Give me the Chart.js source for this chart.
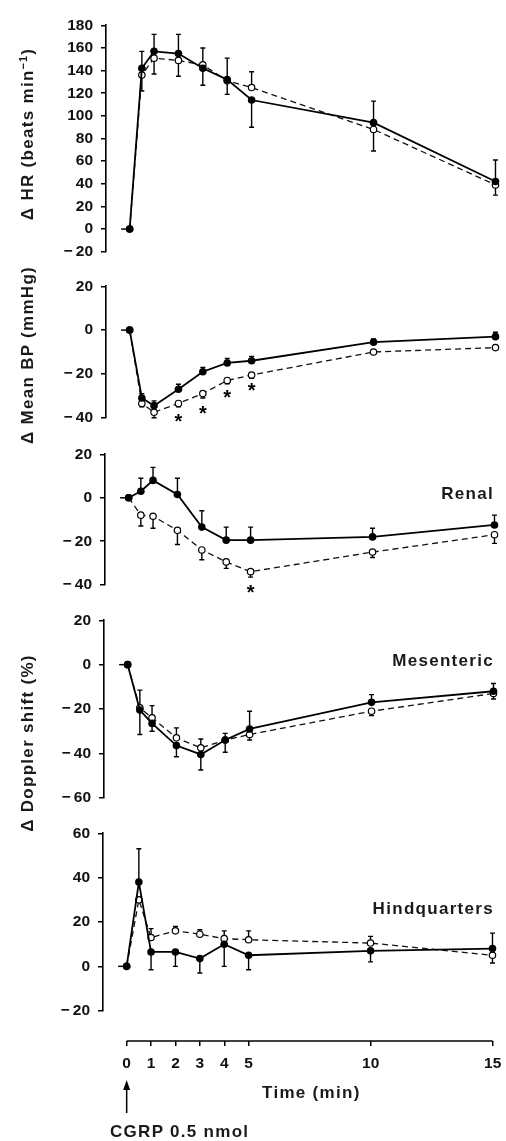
<!DOCTYPE html>
<html>
<head>
<meta charset="utf-8">
<script src="https://cdn.jsdelivr.net/npm/chart.js@4.4.1/dist/chart.umd.min.js"></script>
<style>
html, body { margin: 0; padding: 0; background: #fff; }
body { position: relative; width: 506px; height: 1141px; overflow: hidden; }
canvas { position: absolute; }
.lbl { position: absolute; font-family: "Liberation Sans", Arial, sans-serif; font-size: 17px; font-weight: bold;
       letter-spacing: 1.3px; color: #1a1a1a; white-space: nowrap; line-height: 1; }
.yt { transform: translate(-50%, -50%) rotate(-90deg); }
sup { font-size: 11px; letter-spacing: 1px; vertical-align: 6px; }
</style>
</head>
<body>
<canvas id="hr" width="506" height="261" style="left:2px;top:8px"></canvas>
<canvas id="bp" width="506" height="166" style="left:2px;top:269px"></canvas>
<canvas id="renal" width="506" height="165" style="left:1px;top:437px"></canvas>
<canvas id="mes" width="506" height="212" style="left:0px;top:603px"></canvas>
<canvas id="hind" width="506" height="212" style="left:-1px;top:816px"></canvas>
<canvas id="time" width="526" height="121" style="left:-1px;top:1020px"></canvas>

<div class="lbl yt" style="left:27px;top:134px">Δ HR (beats min<sup>−1</sup>)</div>
<div class="lbl yt" style="left:27px;top:355px">Δ Mean BP (mmHg)</div>
<div class="lbl yt" style="left:27px;top:743px">Δ Doppler shift (%)</div>
<div class="lbl" style="right:12px;top:485px">Renal</div>
<div class="lbl" style="right:12px;top:652px">Mesenteric</div>
<div class="lbl" style="right:12px;top:900px">Hindquarters</div>
<div class="lbl" style="left:262px;top:1084px">Time (min)</div>
<div class="lbl" style="left:110px;top:1123px">CGRP 0.5 nmol</div>

<script>
// time points (min) after CGRP injection
var times = [0, 0.5, 1, 2, 3, 4, 5, 10, 15];
var xTicks = [0, 1, 2, 3, 4, 5, 10, 15];

// heart rate
var hrFilled    = [0, 142, 157, 155, 142, 132, 114, 94, 42];
var hrFilledErr = [null, 157, 172, 172, 127, 151, 90, 113, 61];
var hrOpen      = [0, 136, 151, 149, 145, 131, 125, 88, 39];
var hrOpenErr   = [null, 122, 137, 135, 160, 119, 139, 69, 30];

// mean blood pressure
var bpFilled    = [0, -31, -34.5, -27, -19, -15, -14, -5.5, -3];
var bpFilledErr = [null, -29, -32.3, -24.7, -17, -13, -12, -4, -1];
var bpOpen      = [0, -33.5, -37.5, -33.5, -29, -23, -20.5, -10, -8];
var bpOpenErr   = [null, -35, -40, -35, -31, -24.5, -22, null, null];
var bpStarX = [2, 3, 4, 5];
var bpStarY = [-39.8, -35.9, -28.8, -25.3];

// renal doppler shift
var renFilled    = [0, 3, 8, 1.5, -13.5, -19.5, -19.5, -18, -12.5];
var renFilledErr = [null, 9, 14, 9, -6, -13.5, -13.5, -14, -8];
var renOpen      = [0, -8, -8.5, -15, -24, -29.5, -34, -25, -17];
var renOpenErr   = [null, -13, -14, -21.5, -28.5, -32.5, -36.5, -27.5, -21];
var renStarX = [5];
var renStarY = [-41.4];

// mesenteric doppler shift
var mesFilled    = [0, -20.5, -26.5, -36.5, -40.5, -34, -29, -17, -12];
var mesFilledErr = [null, -31.5, -30, -41.5, -47.5, -39.5, -21, -13.5, -8.5];
var mesOpen      = [0, -19.5, -24, -33, -37.5, -34, -31.5, -21, -13];
var mesOpenErr   = [null, -11.5, -18.5, -28.5, -33.5, -31, -34, -23, -15.5];

// hindquarters doppler shift
var hqFilled    = [0, 38, 6.5, 6.5, 3.5, 10, 5, 7, 8];
var hqFilledErr = [null, 53, -1.5, 0, -3, 0, -1.5, 2, 15];
var hqOpen      = [0, 30, 13, 16, 14.5, 12.5, 12, 10.5, 5];
var hqOpenErr   = [null, null, 17, 18, 16.5, 16, 16, 13.5, 1.5];

var FONT = "'Liberation Sans', Arial, sans-serif";
var X_MIN = -0.97, X_MAX = 15.3;

function pts(arr) {
	return times.map(function(t, i) { return {x: t, y: arr[i]}; });
}

function tickLabel(v) {
	return v < 0 ? '\u2212\u2009' + (-v) : '' + v;
}

var extras = {
	id: 'extras',
	beforeDatasetsDraw: function(chart, args, opts) {
		var ctx = chart.ctx, xs = chart.scales.x, ys = chart.scales.y;
		ctx.save();
		ctx.strokeStyle = '#000';
		ctx.lineWidth = 1.4;
		chart.data.datasets.forEach(function(ds) {
			if (!ds.errEnd) return;
			ds.data.forEach(function(p, i) {
				var e = ds.errEnd[i];
				if (e === null || e === undefined) return;
				var px = xs.getPixelForValue(p.x);
				var y0 = ys.getPixelForValue(p.y), y1 = ys.getPixelForValue(e);
				ctx.beginPath();
				ctx.moveTo(px, y0); ctx.lineTo(px, y1);
				ctx.moveTo(px - 2.5, y1); ctx.lineTo(px + 2.5, y1);
				ctx.stroke();
			});
		});
		if (opts.stub) {
			var yz = ys.getPixelForValue(0);
			ctx.lineWidth = 1.5;
			ctx.beginPath();
			ctx.moveTo(xs.getPixelForValue(-0.35), yz);
			ctx.lineTo(xs.getPixelForValue(0), yz);
			ctx.stroke();
		}
		ctx.restore();
	},
	afterDatasetsDraw: function(chart, args, opts) {
		if (!opts.starX) return;
		var ctx = chart.ctx, xs = chart.scales.x, ys = chart.scales.y;
		ctx.save();
		ctx.fillStyle = '#000';
		ctx.font = 'bold 20px ' + FONT;
		ctx.textAlign = 'center';
		ctx.textBaseline = 'alphabetic';
		opts.starX.forEach(function(t, i) {
			ctx.fillText('*', xs.getPixelForValue(t), ys.getPixelForValue(opts.starY[i]) + 11);
		});
		ctx.restore();
	}
};

function panel(id, yMin, yMax, filled, filledErr, open, openErr, starX, starY) {
	return new Chart(document.getElementById(id), {
		type: 'line',
		data: {
			datasets: [
				{
					data: pts(filled), errEnd: filledErr,
					borderColor: '#000', borderWidth: 1.8,
					pointRadius: 3.8, pointBackgroundColor: '#000', pointBorderWidth: 0
				},
				{
					data: pts(open), errEnd: openErr,
					borderColor: '#111', borderWidth: 1.3, borderDash: [6, 4],
					pointRadius: 3.2, pointBackgroundColor: '#fff', pointBorderColor: '#000', pointBorderWidth: 1.2
				}
			]
		},
		options: {
			responsive: false, animation: false, events: [],
			layout: {padding: {left: 0, right: 5, top: 12, bottom: 12}},
			plugins: {
				legend: {display: false}, tooltip: {enabled: false},
				extras: {stub: true, starX: starX, starY: starY}
			},
			scales: {
				x: {type: 'linear', display: false, min: X_MIN, max: X_MAX},
				y: {
					min: yMin, max: yMax,
					afterFit: function(s) { s.width = 104; },
					ticks: {stepSize: 20, color: '#111', padding: 8, font: {family: FONT, size: 15.5, weight: 'bold'}, callback: tickLabel},
					grid: {drawOnChartArea: false, drawTicks: true, tickLength: 5, color: '#000', lineWidth: 1.5},
					border: {display: true, color: '#000', width: 1.6}
				}
			}
		},
		plugins: [extras]
	});
}

panel('hr', -20, 180, hrFilled, hrFilledErr, hrOpen, hrOpenErr);
panel('bp', -40, 20, bpFilled, bpFilledErr, bpOpen, bpOpenErr, bpStarX, bpStarY);
panel('renal', -40, 20, renFilled, renFilledErr, renOpen, renOpenErr, renStarX, renStarY);
panel('mes', -60, 20, mesFilled, mesFilledErr, mesOpen, mesOpenErr);
panel('hind', -20, 60, hqFilled, hqFilledErr, hqOpen, hqOpenErr);

// shared time axis with the injection arrow
var timeAxis = {
	id: 'timeAxis',
	afterDraw: function(chart) {
		var ctx = chart.ctx, xs = chart.scales.x;
		var y = chart.chartArea.bottom, x0 = xs.getPixelForValue(0);
		ctx.save();
		ctx.strokeStyle = '#000';
		ctx.fillStyle = '#000';
		ctx.lineWidth = 1.6;
		ctx.beginPath();
		ctx.moveTo(x0, y); ctx.lineTo(xs.getPixelForValue(15), y);
		ctx.stroke();
		ctx.lineWidth = 1.5;
		ctx.beginPath();
		ctx.moveTo(x0, 68); ctx.lineTo(x0, 93);
		ctx.stroke();
		ctx.beginPath();
		ctx.moveTo(x0, 60); ctx.lineTo(x0 - 3.5, 70); ctx.lineTo(x0 + 3.5, 70);
		ctx.closePath(); ctx.fill();
		ctx.restore();
	}
};

new Chart(document.getElementById('time'), {
	type: 'line',
	data: {datasets: [{data: []}]},
	options: {
		responsive: false, animation: false, events: [],
		layout: {padding: {left: 104, right: 25, top: 0, bottom: 0}},
		plugins: {legend: {display: false}, tooltip: {enabled: false}},
		scales: {
			x: {
				type: 'linear', min: X_MIN, max: X_MAX,
				afterBuildTicks: function(s) { s.ticks = xTicks.map(function(v) { return {value: v}; }); },
				afterFit: function(s) { s.height = 100; },
				ticks: {color: '#111', padding: 8, maxRotation: 0, autoSkip: false, font: {family: FONT, size: 15.5, weight: 'bold'}},
				grid: {drawOnChartArea: false, drawTicks: true, tickLength: 5, color: '#000', lineWidth: 1.5},
				border: {display: false}
			},
			y: {display: false, min: 0, max: 1}
		}
	},
	plugins: [timeAxis]
});
</script>
</body>
</html>
